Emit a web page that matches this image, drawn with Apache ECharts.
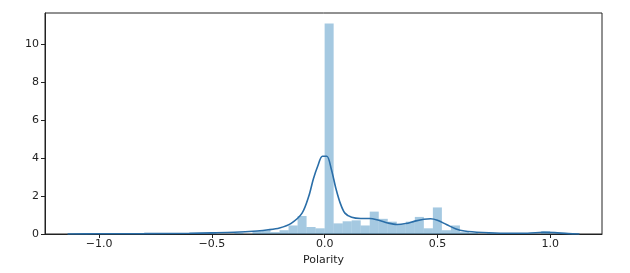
<!DOCTYPE html>
<html>
<head>
<meta charset="utf-8">
<script src="https://cdn.jsdelivr.net/npm/echarts@6/dist/echarts.min.js"></script>
<style>html,body{margin:0;padding:0;background:#fff;}#c{width:630px;height:273px;}</style>
</head>
<body>
<div id="c"></div>
<script>
// Histogram bins (left edge, width 0.04) and densities
const binStarts = [-0.52,-0.40,-0.32,-0.28,-0.24,-0.20,-0.16,-0.12,-0.08,-0.04,0.00,0.04,0.08,0.12,0.16,0.20,0.24,0.28,0.32,0.36,0.40,0.44,0.48,0.52,0.56,0.60,0.64,0.72,0.80,0.96];
const binDensity = [0.05,0.05,0.15,0.2,0.1,0.2,0.45,0.95,0.37,0.3,11.1,0.56,0.67,0.72,0.45,1.18,0.8,0.65,0.5,0.65,0.9,0.3,1.4,0.2,0.45,0.1,0.05,0.05,0.03,0.15];
const binWidth = 0.04;
// KDE curve points
const kdeX = [-1.14,-1.0,-0.8,-0.6,-0.5,-0.4,-0.3,-0.25,-0.2,-0.15,-0.1,-0.07,-0.05,-0.03,-0.01,0.01,0.03,0.05,0.07,0.09,0.12,0.16,0.2,0.24,0.28,0.32,0.36,0.40,0.44,0.47,0.5,0.54,0.58,0.62,0.7,0.8,0.9,0.97,1.02,1.08,1.13];
const kdeY = [0.0,0.01,0.02,0.04,0.06,0.09,0.16,0.22,0.32,0.55,1.1,2.0,2.9,3.6,4.1,4.1,3.4,2.4,1.6,1.1,0.88,0.82,0.82,0.72,0.58,0.5,0.55,0.68,0.78,0.8,0.72,0.5,0.28,0.16,0.08,0.04,0.04,0.09,0.07,0.02,0.0];
const xTicks = [-1.0,-0.5,0.0,0.5,1.0];
const yTicks = [0,2,4,6,8,10];
const xTitle = 'Polarity';

const chart = echarts.init(document.getElementById('c'), null, {renderer:'canvas'});
const fmt = v => (v < 0 ? '\u2212' + Math.abs(v).toFixed(1) : v.toFixed(1));
const font = 'DejaVu Sans';
chart.setOption({
  animation:false,
  grid:{left:45,right:28,top:13,bottom:39,show:true,borderColor:'#222',borderWidth:1},
  xAxis:{type:'value',min:-1.24,max:1.23,
    name:xTitle,nameLocation:'middle',nameGap:20,
    nameTextStyle:{fontFamily:font,fontSize:11,color:'#222'},
    axisLine:{show:true,onZero:false,lineStyle:{color:'#222',width:1}},
    axisTick:{show:true,length:4,inside:false,customValues:xTicks,lineStyle:{color:'#222'}},
    axisLabel:{customValues:xTicks,formatter:fmt,fontFamily:font,fontSize:11,color:'#222',margin:5},
    splitLine:{show:false}},
  yAxis:{type:'value',min:0,max:11.65,
    axisLine:{show:true,onZero:false,lineStyle:{color:'#222',width:1}},
    axisTick:{show:true,length:4,customValues:yTicks,lineStyle:{color:'#222'}},
    axisLabel:{customValues:yTicks,fontFamily:font,fontSize:11,color:'#222',margin:6},
    splitLine:{show:false}},
  series:[
    {type:'custom',
     data:binStarts.map((s,i)=>[s,binDensity[i]]),
     renderItem:function(params,api){
       const s=api.value(0), h=api.value(1);
       const p0=api.coord([s,0]), p1=api.coord([s+binWidth,h]);
       return {type:'rect',shape:{x:p0[0],y:p1[1],width:p1[0]-p0[0],height:p0[1]-p1[1]},
         style:{fill:'rgba(31,119,180,0.4)'}};
     },
     z:1},
    {type:'line',data:kdeX.map((x,i)=>[x,kdeY[i]]),smooth:0.3,showSymbol:false,
     lineStyle:{color:'#2a6ea8',width:1.6},z:2}
  ]
});
</script>
</body>
</html>
